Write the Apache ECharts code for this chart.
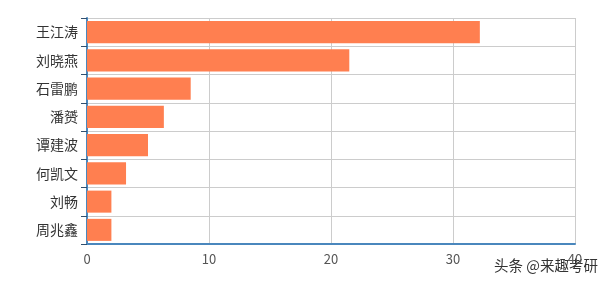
<!DOCTYPE html>
<html><head><meta charset="utf-8">
<script src="https://cdn.jsdelivr.net/npm/echarts@6/dist/echarts.min.js"></script>
<style>html,body{margin:0;padding:0;background:#fff}#c{width:615px;height:283px}</style>
</head><body><div id="c"></div>
<script>
const categories = ['王江涛','刘晓燕','石雷鹏','潘赟','谭建波','何凯文','刘畅','周兆鑫'];
const values = [32.2, 21.5, 8.5, 6.3, 5.0, 3.2, 2.0, 2.0];
const xTicks = [0, 10, 20, 30, 40];
const watermark = '头条 @来趣考研';

const chart = echarts.init(document.getElementById('c'), null, {renderer:'canvas'});
chart.setOption({
  animation:false,
  grid:{left:87, top:18, right:40, bottom:39, containLabel:false},
  xAxis:{
    type:'value', min:xTicks[0], max:xTicks[xTicks.length-1], interval:10,
    axisLine:{show:true, lineStyle:{color:'#4a87bd', width:2}},
    axisTick:{show:false},
    axisLabel:{color:'#555', fontSize:13, margin:9, fontFamily:'Noto Sans CJK SC, sans-serif'},
    splitLine:{show:true, lineStyle:{color:'#ccc', width:1}}
  },
  yAxis:{
    type:'category', data:categories, inverse:true,
    axisLine:{show:true, lineStyle:{color:'#4a87bd', width:2}},
    axisTick:{show:true, length:6, lineStyle:{color:'#2f4f6f'}},
    axisLabel:{color:'#333', fontSize:14, margin:9, fontFamily:'Noto Sans CJK SC, sans-serif'},
    splitLine:{show:true, lineStyle:{color:'#ccc', width:1}}
  },
  series:[{
    type:'bar', data:values, barWidth:'78%',
    itemStyle:{color:'#ff7f50'}
  }],
  graphic:[{
    type:'text', left:493, top:257,
    style:{text:watermark, fill:'#333', stroke:'#fff', lineWidth:2, font:'14.5px "Noto Sans CJK SC", sans-serif'}
  }]
});
</script></body></html>
